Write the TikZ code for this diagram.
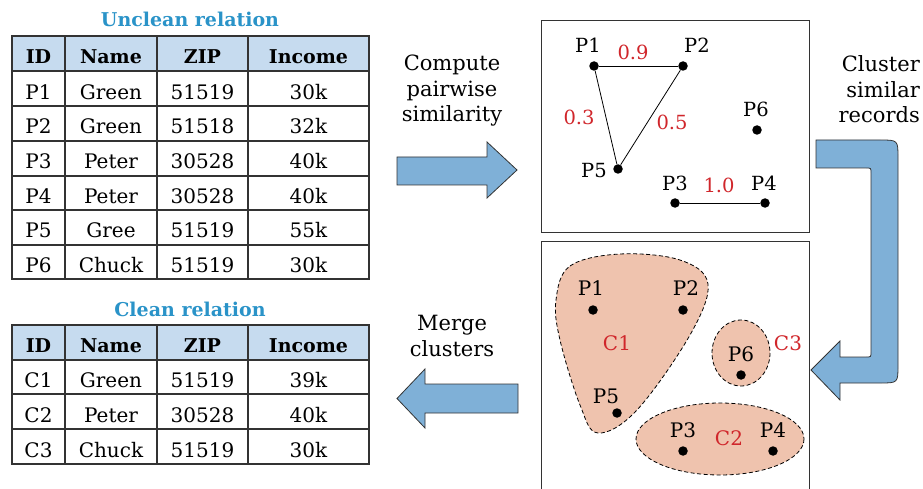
\documentclass[tikz,border=0pt]{standalone}
\usepackage{fontspec}
\setmainfont{DejaVu Serif}
\definecolor{headblue}{HTML}{C6DBEF}
\definecolor{titleblue}{HTML}{2A93C8}
\definecolor{arrowblue}{HTML}{7FB0D7}
\definecolor{clusterfill}{HTML}{EFC3AE}
\definecolor{simred}{HTML}{D0262B}
\definecolor{gridgray}{HTML}{333333}
\tikzset{
  grid/.style={draw=gridgray, line width=1.1pt},
  cell/.style={anchor=base, inner sep=0pt, font=\fontsize{20}{22}\selectfont},
  hcell/.style={cell, font=\fontsize{19}{21}\selectfont\bfseries},
  tabtitle/.style={anchor=base, inner sep=0pt, text=titleblue, font=\fontsize{19}{21}\selectfont\bfseries},
  steptext/.style={align=center, inner sep=0pt, font=\fontsize{21}{25.5}\selectfont},
  bigarrow/.style={fill=arrowblue, draw=gridgray, line width=0.8pt, line join=miter},
  panel/.style={draw=gridgray, line width=1pt},
  dot/.style={circle, fill=black, inner sep=0pt, minimum size=9.5pt},
  plabel/.style={anchor=base, inner sep=0pt, font=\fontsize{19.5}{21}\selectfont},
  simlabel/.style={plabel, text=simred},
  clabel/.style={anchor=base, inner sep=0pt, font=\fontsize{20}{22}\selectfont},
  cname/.style={clabel, text=simred},
  cluster/.style={fill=clusterfill, draw=black, line width=0.8pt, dash pattern=on 4pt off 2.5pt},
}
\begin{document}
\begin{tikzpicture}[x=1pt, y=-1pt]
\useasboundingbox (0,0) rectangle (923,489);

% ---------- unclean relation ----------
\node[tabtitle] (utitle) at (190,27) {Unclean relation};
\fill[headblue] (12,36) rectangle (369,71);
\foreach \yy in {71,106,141,176,210,245} \draw[grid] (12,\yy) -- (369,\yy);
\foreach \xx in {65,157,248} \draw[grid] (\xx,36) -- (\xx,279);
\draw[grid] (12,36) rectangle (369,279);
\foreach \t/\x/\n in {ID/38.5/id, Name/111/name, ZIP/202.5/zip, Income/308.5/inc}
  \node[hcell] (u-\n) at (\x,63.3) {\t};
\foreach \i/\a/\b/\c/\d in {1/P1/Green/51519/30k, 2/P2/Green/51518/32k, 3/P3/Peter/30528/40k,
                            4/P4/Peter/30528/40k, 5/P5/Gree/51519/55k, 6/P6/Chuck/51519/30k}{
  \pgfmathsetmacro\yb{71+(\i-1)*34.67+28.3}
  \node[cell] (u-\i-1) at (38.5,\yb) {\a};
  \node[cell] (u-\i-2) at (111,\yb) {\b};
  \node[cell] (u-\i-3) at (202.5,\yb) {\c};
  \node[cell] (u-\i-4) at (308.5,\yb) {\d};
}

% ---------- clean relation ----------
\node[tabtitle] (ctitle) at (190,316) {Clean relation};
\fill[headblue] (12,325) rectangle (369,360);
\foreach \yy in {360,394,429} \draw[grid] (12,\yy) -- (369,\yy);
\foreach \xx in {65,157,248} \draw[grid] (\xx,325) -- (\xx,464);
\draw[grid] (12,325) rectangle (369,464);
\foreach \t/\x/\n in {ID/38.5/id, Name/111/name, ZIP/202.5/zip, Income/308.5/inc}
  \node[hcell] (c-\n) at (\x,352.7) {\t};
\foreach \i/\a/\b/\c/\d in {1/C1/Green/51519/39k, 2/C2/Peter/30528/40k, 3/C3/Chuck/51519/30k}{
  \pgfmathsetmacro\yb{360+(\i-1)*34.67+27.9}
  \node[cell] (c-\i-1) at (38.5,\yb) {\a};
  \node[cell] (c-\i-2) at (111,\yb) {\b};
  \node[cell] (c-\i-3) at (202.5,\yb) {\c};
  \node[cell] (c-\i-4) at (308.5,\yb) {\d};
}

% ---------- step arrows (base anchor = baseline of the last line) ----------
\node[steptext, anchor=base] (compute) at (452,122) {Compute\\pairwise\\similarity};
\draw[bigarrow] (397,157) -- (487,157) -- (487,142) -- (517,170) -- (487,198) -- (487,185) -- (397,185) -- cycle;

\node[steptext, anchor=base east, align=right] (clusterstep) at (920,123) {Cluster\\similar\\records};
\draw[bigarrow] (816,140) -- (880,140) .. controls (898,140) .. (898,158) -- (898,365)
  .. controls (898,383) .. (880,383) -- (840,383) -- (840,400) -- (811,370) -- (840,341)
  -- (840,357) -- (866,357) .. controls (871,357) .. (871,352) -- (871,173)
  .. controls (871,168) .. (866,168) -- (816,168) -- cycle;

\node[steptext, anchor=base] (merge) at (452,356) {Merge\\clusters};
\draw[bigarrow] (518,384) -- (425,384) -- (425,369) -- (397,398.5) -- (425,428) -- (425,413) -- (518,413) -- cycle;

% ---------- similarity graph ----------
\draw[panel] (541,21) rectangle (809,232);
\node[dot] (s1) at (594,66) {};
\node[dot] (s2) at (683,66) {};
\node[dot] (s5) at (618,169) {};
\node[dot] (s6) at (757,130) {};
\node[dot] (s3) at (675,203) {};
\node[dot] (s4) at (765,203) {};
\draw[line width=0.8pt] (s1) -- (s2);
\draw[line width=0.8pt] (s1) -- (s5);
\draw[line width=0.8pt] (s2) -- (s5);
\draw[line width=0.8pt] (s3) -- (s4);
\node[plabel] (l1) at (588,53) {P1};
\node[plabel] (l2) at (697,53) {P2};
\node[plabel] (l6) at (756,117) {P6};
\node[plabel] (l5) at (594,178) {P5};
\node[plabel] (l3) at (675,190) {P3};
\node[plabel] (l4) at (764,190) {P4};
\node[simlabel] (w12) at (633,60) {0.9};
\node[simlabel] (w15) at (579,125) {0.3};
\node[simlabel] (w25) at (672,130) {0.5};
\node[simlabel] (w34) at (719,193) {1.0};

% ---------- clusters ----------
\draw[panel] (541,489) -- (541,241) -- (809,241) -- (809,489);
\draw[cluster] plot[smooth cycle, tension=0.6] coordinates
  {(556,300) (570,266) (620,254) (680,260) (708,284) (690,335) (637,410) (598,433) (580,405) (560,340)};
\draw[cluster] (741,353) ellipse[x radius=29, y radius=33];
\draw[cluster] (720,439) ellipse[x radius=84, y radius=36];
\node[dot] (k1) at (593,310) {};
\node[dot] (k2) at (683,310) {};
\node[dot] (k6) at (741,375) {};
\node[dot] (k5) at (617,413) {};
\node[dot] (k3) at (683,451) {};
\node[dot] (k4) at (773,451) {};
\node[clabel] (m1) at (591,295) {P1};
\node[clabel] (m2) at (686,295) {P2};
\node[clabel] (m6) at (741,361) {P6};
\node[clabel] (m5) at (606,403) {P5};
\node[clabel] (m3) at (683,437) {P3};
\node[clabel] (m4) at (773,437) {P4};
\node[cname] (cl1) at (617,350) {C1};
\node[cname] (cl3) at (788,350) {C3};
\node[cname] (cl2) at (729,445) {C2};
\end{tikzpicture}
\end{document}
